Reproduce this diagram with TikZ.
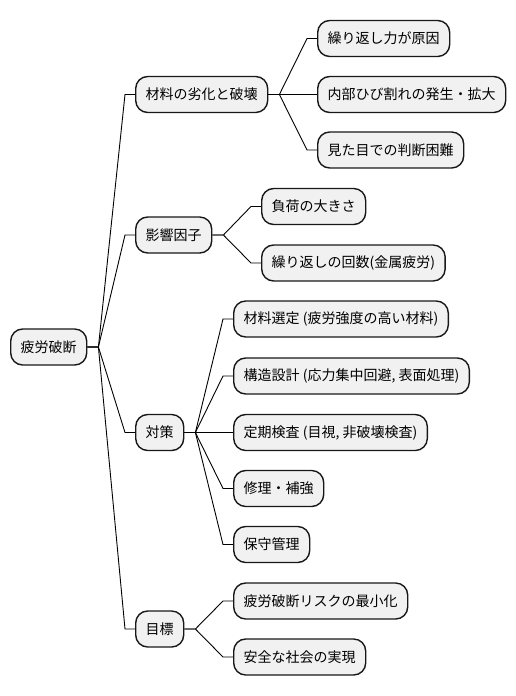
\documentclass[tikz,border=0pt]{standalone}
\usepackage{fontspec}
\setmainfont{Noto Sans CJK JP}
\usetikzlibrary{calc}
\definecolor{boxfill}{HTML}{F1F1F1}
\definecolor{boxline}{HTML}{181818}
\tikzset{
  mmbox/.style={draw=boxline, fill=boxfill, line width=1.4pt, rounded corners=12pt,
    minimum height=36pt, inner xsep=10pt, inner ysep=0pt, anchor=west,
    font=\fontsize{14pt}{17pt}\selectfont, text=black},
  conn/.style={draw=black, line width=0.9pt}
}
\newcommand\myconn[2]{%
  \path (#1.east) ++(11pt,0) coordinate (s);
  \path (#2.west) ++(-10pt,0) coordinate (e);
  \draw[conn] (#1.east) -- (s) .. controls ($(s)!0.5!(e)$ |- s) and ($(s)!0.5!(e)$ |- e) .. (e) -- (#2.west);%
}
\begin{document}
\begin{tikzpicture}[x=1pt,y=-1pt]
\useasboundingbox (0,0) rectangle (516,696);
\node[mmbox] (root) at (10,347) {疲労破断};
\node[mmbox] (A) at (135,94.5) {材料の劣化と破壊};
\node[mmbox] (A1) at (317,38.5) {繰り返し力が原因};
\node[mmbox] (A2) at (317,94.5) {内部ひび割れの発生・拡大};
\node[mmbox] (A3) at (317,150) {見た目での判断困難};
\node[mmbox] (B) at (135,235) {影響因子};
\node[mmbox] (B1) at (261,206.5) {負荷の大きさ};
\node[mmbox] (B2) at (261,263) {繰り返しの回数(金属疲労)};
\node[mmbox] (C) at (135,432.5) {対策};
\node[mmbox] (C1) at (233,319) {材料選定 (疲労強度の高い材料)};
\node[mmbox] (C2) at (233,376) {構造設計 (応力集中回避, 表面処理)};
\node[mmbox] (C3) at (233,432.5) {定期検査 (目視, 非破壊検査)};
\node[mmbox] (C4) at (233,488.5) {修理・補強};
\node[mmbox] (C5) at (233,544.5) {保守管理};
\node[mmbox] (D) at (135,629) {目標};
\node[mmbox] (D1) at (233,601) {疲労破断リスクの最小化};
\node[mmbox] (D2) at (233,657) {安全な社会の実現};
\foreach \p/\c in {root/A, root/B, root/C, root/D, A/A1, A/A2, A/A3, B/B1, B/B2,
  C/C1, C/C2, C/C3, C/C4, C/C5, D/D1, D/D2} {\myconn{\p}{\c}}
\end{tikzpicture}
\end{document}
